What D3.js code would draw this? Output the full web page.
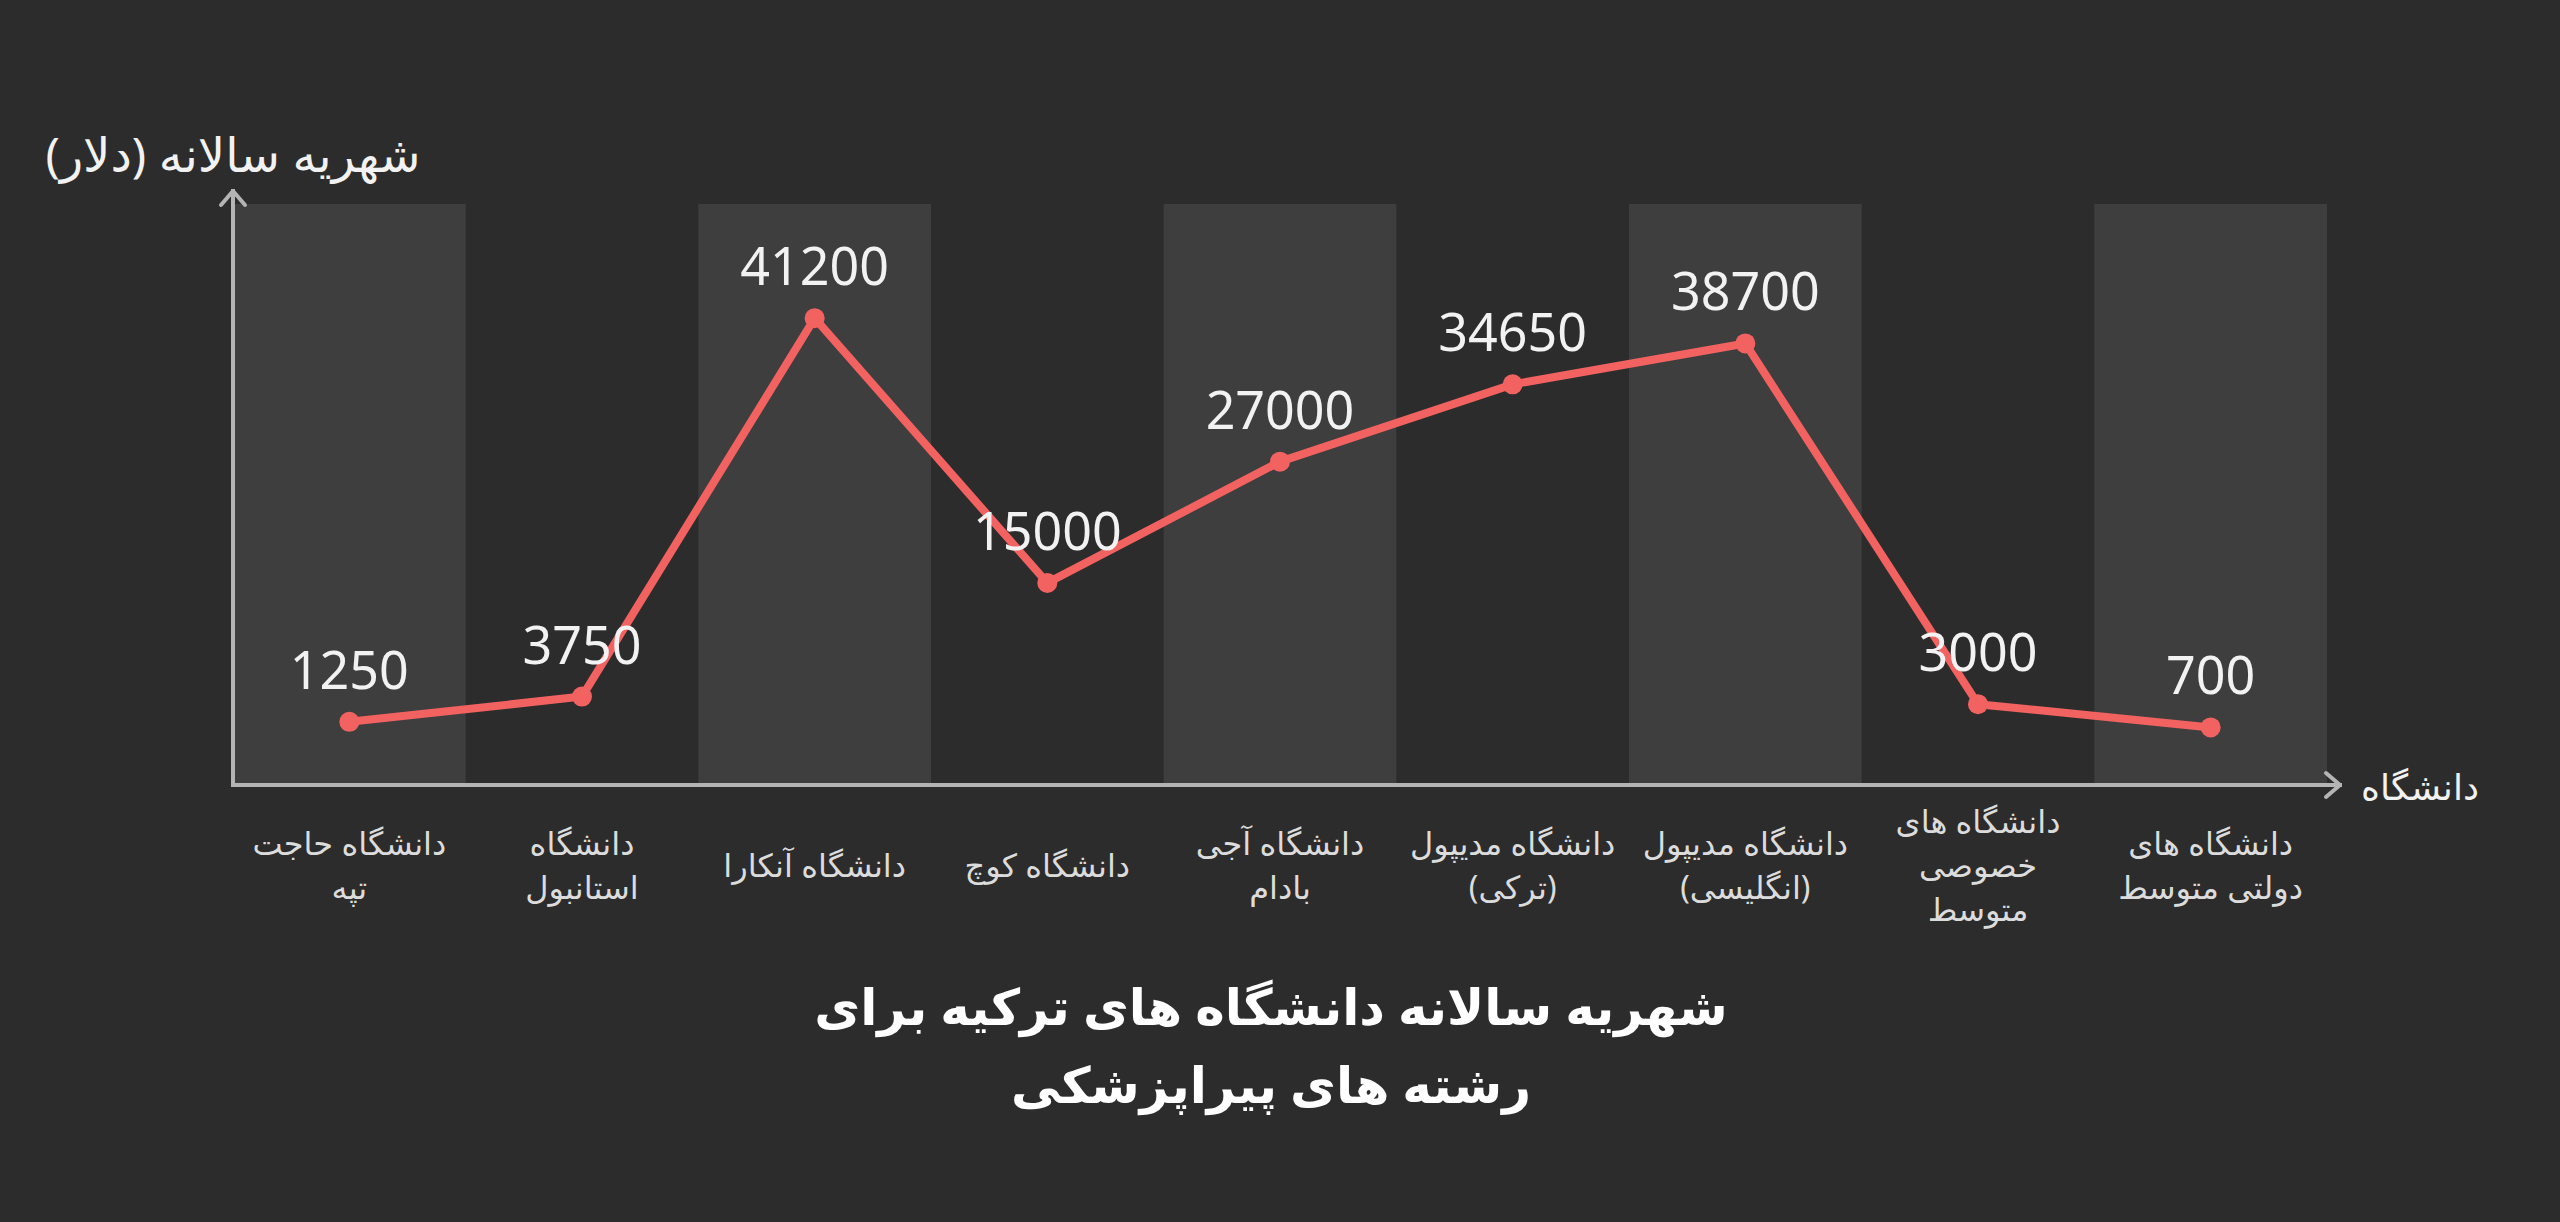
<!DOCTYPE html>
<html>
<head>
<meta charset="utf-8">
<script src="https://cdn.jsdelivr.net/npm/d3@7"></script>
<style>
  html, body { margin: 0; padding: 0; background: #2c2c2c; }
  svg { display: block; }
  text { font-family: "Noto Sans", "DejaVu Sans", sans-serif; }
</style>
</head>
<body>
<div id="chart"></div>
<script>
// --- data ---
const universities = [
  "دانشگاه حاجت\nتپه",
  "دانشگاه\nاستانبول",
  "دانشگاه آنکارا",
  "دانشگاه کوچ",
  "دانشگاه آجی\nبادام",
  "دانشگاه مدیپول\n(ترکی)",
  "دانشگاه مدیپول\n(انگلیسی)",
  "دانشگاه های\nخصوصی\nمتوسط",
  "دانشگاه های\nدولتی متوسط"
];
const tuition = [1250, 3750, 41200, 15000, 27000, 34650, 38700, 3000, 700];
const titleLines = ["شهریه سالانه دانشگاه های ترکیه برای", "رشته های پیراپزشکی"];
const yLabel = "شهریه سالانه (دلار)";
const xLabel = "دانشگاه";

const width = 2560;
const height = 1222;
const plot = { left: 233, right: 2327, top: 204, bottom: 785 };

const svg = d3.select("#chart").append("svg")
  .attr("width", width)
  .attr("height", height);

svg.append("rect")
  .attr("width", width).attr("height", height)
  .attr("fill", "#2c2c2c");

const x = d3.scaleBand()
  .domain(universities)
  .range([plot.left, plot.right])
  .padding(0);

const y = d3.scaleLinear()
  .domain([-5000, 52500])
  .range([plot.bottom, plot.top]);

// alternating stripes behind the line
svg.append("g").selectAll("rect")
  .data(universities.filter((d, i) => i % 2 === 0))
  .enter().append("rect")
  .attr("x", d => x(d))
  .attr("y", plot.top)
  .attr("width", x.bandwidth())
  .attr("height", plot.bottom - plot.top)
  .attr("fill", "#3e3e3e");

// axes with arrow heads
const axisColor = "#b4b4b4";
const axes = svg.append("g")
  .attr("stroke", axisColor)
  .attr("stroke-width", 4)
  .attr("fill", "none")
  .attr("stroke-linecap", "square");

axes.append("path")
  .attr("d", `M${plot.left},${plot.bottom} V${plot.top - 13}`);
axes.append("path")
  .attr("stroke-linecap", "round")
  .attr("stroke-linejoin", "round")
  .attr("d", `M${plot.left - 12},${plot.top + 1} L${plot.left},${plot.top - 13} L${plot.left + 12},${plot.top + 1}`);
axes.append("path")
  .attr("d", `M${plot.left},${plot.bottom} H${plot.right + 13}`);
axes.append("path")
  .attr("stroke-linecap", "round")
  .attr("stroke-linejoin", "round")
  .attr("d", `M${plot.right - 1},${plot.bottom - 12} L${plot.right + 13},${plot.bottom} L${plot.right - 1},${plot.bottom + 12}`);

// category labels (multi-line, vertically centred)
const lineH = 44;
const cats = svg.append("g").selectAll("text")
  .data(universities)
  .enter().append("text")
  .attr("text-anchor", "middle")
  .attr("direction", "rtl")
  .attr("fill", "#dcdcdc")
  .attr("font-size", 32)
  .attr("transform", d => `translate(${x(d) + x.bandwidth() / 2},0)`);

cats.each(function(d) {
  const lines = d.split("\n");
  const y0 = 866 - (lines.length - 1) * lineH / 2 + 11;
  d3.select(this).selectAll("tspan")
    .data(lines)
    .enter().append("tspan")
    .attr("x", 0)
    .attr("y", (l, i) => y0 + i * lineH)
    .text(l => l);
});

// the line + points
const cx = (d, i) => x(universities[i]) + x.bandwidth() / 2;
const line = d3.line()
  .x((d, i) => cx(d, i))
  .y(d => y(d));

svg.append("path")
  .datum(tuition)
  .attr("fill", "none")
  .attr("stroke", "#f26260")
  .attr("stroke-width", 8)
  .attr("stroke-linejoin", "round")
  .attr("d", line);

svg.append("g").selectAll("circle")
  .data(tuition)
  .enter().append("circle")
  .attr("cx", cx)
  .attr("cy", d => y(d))
  .attr("r", 10)
  .attr("fill", "#f26260");

// value labels
svg.append("g").selectAll("text")
  .data(tuition)
  .enter().append("text")
  .attr("x", cx)
  .attr("y", d => y(d) - 33)
  .attr("text-anchor", "middle")
  .attr("fill", "#f2f2f2")
  .attr("font-size", 52)
  .text(d => d);

// axis titles
svg.append("text")
  .attr("x", plot.left)
  .attr("y", 172)
  .attr("text-anchor", "middle")
  .attr("direction", "rtl")
  .attr("fill", "#f2f2f2")
  .attr("font-size", 48)
  .text(yLabel);

svg.append("text")
  .attr("x", 2420)
  .attr("y", 800)
  .attr("text-anchor", "middle")
  .attr("direction", "rtl")
  .attr("fill", "#f2f2f2")
  .attr("font-size", 36)
  .text(xLabel);

// chart title
svg.append("g").selectAll("text")
  .data(titleLines)
  .enter().append("text")
  .attr("x", 1271)
  .attr("y", (d, i) => 1025 + i * 78)
  .attr("text-anchor", "middle")
  .attr("direction", "rtl")
  .attr("fill", "#ffffff")
  .attr("font-size", 50)
  .attr("font-weight", "bold")
  .text(d => d);
</script>
</body>
</html>
